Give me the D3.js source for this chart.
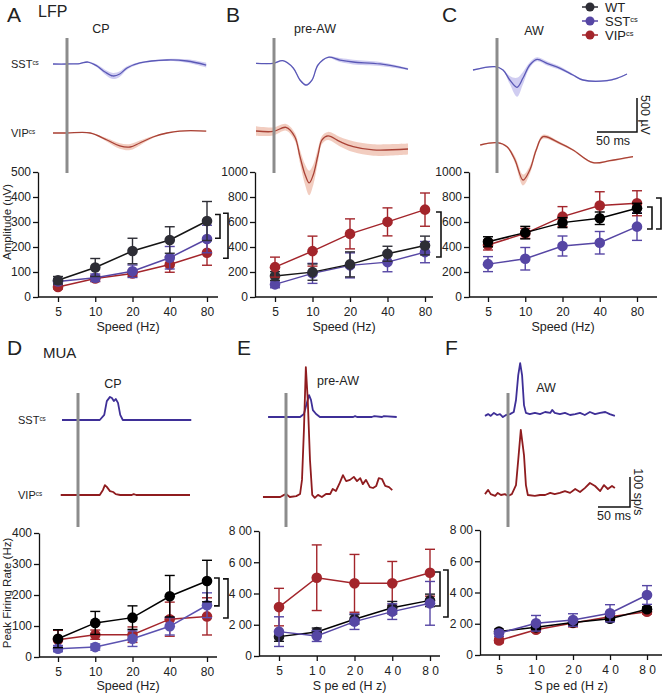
<!DOCTYPE html>
<html><head><meta charset="utf-8">
<script src="https://cdn.jsdelivr.net/npm/d3@7"></script>
<style>
body{margin:0;background:#fff}
svg{display:block}
text{font-family:"Liberation Sans",Arial,Helvetica,sans-serif;fill:#222}
</style>
</head><body>
<svg id="c" width="666" height="694"></svg>
<script>
// ---------------- DATA ----------------
const speeds = ["5","10","20","40","80"];
const speedLabels = ["5","10","20","40","80"];
const speedLabelsSpaced = ["5","1 0","2 0","4 0","8 0"];

// LFP amplitude (µV), mean and SEM
const ampCP_WT = [67,118,184,228,304],  ampCP_WTerr = [15,36,51,53,78];
const ampCP_SST = [62,77,103,157,232],  ampCP_SSTerr = [12,15,25,45,55];
const ampCP_VIP = [40,74,94,130,177],   ampCP_VIPerr = [8,12,12,31,50];

const ampPre_WT = [168,199,261,346,412], ampPre_WTerr = [35,65,100,60,75];
const ampPre_SST = [101,189,253,279,359], ampPre_SSTerr = [27,80,100,77,85];
const ampPre_VIP = [239,367,505,601,699], ampPre_VIPerr = [80,120,120,112,133];

const ampAW_WT = [442,515,595,630,710],  ampAW_WTerr = [40,50,40,50,40];
const ampAW_SST = [263,306,408,434,563], ampAW_SSTerr = [60,90,80,90,110];
const ampAW_VIP = [416,509,643,732,750], ampAW_VIPerr = [40,40,80,110,100];

// MUA peak firing rate (Hz), mean and SEM
const rateCP_WT = [59,110,127,196,245],  rateCP_WTerr = [29,37,38,67,67];
const rateCP_SST = [27,32,59,99,167],    rateCP_SSTerr = [10,10,25,28,40];
const rateCP_VIP = [56,72,72,122,131],   rateCP_VIPerr = [30,15,25,55,60];

const ratePre_WT = [124,154,235,309,356], ratePre_WTerr = [30,25,30,40,40];
const ratePre_SST = [156,128,220,284,337], ratePre_SSTerr = [95,35,50,50,140];
const ratePre_VIP = [313,501,465,465,533], ratePre_VIPerr = [120,210,185,140,150];

const rateAW_WT = [150,177,208,232,293], rateAW_WTerr = [15,15,15,15,15];
const rateAW_SST = [139,203,224,267,384], rateAW_SSTerr = [20,50,40,55,60];
const rateAW_VIP = [93,162,205,245,277], rateAW_VIPerr = [15,15,25,15,15];

// axis ticks
const ampCPTicks = [0,100,200,300,400,500];
const ampTicks = [0,200,400,600,800,1000];
const rateCPTicks = [0,100,200,300,400];
const rateTicks = [0,200,400,600,800];
const rateTickLabels = ["0","2 00","4 00","6 00","8 00"];

// significance brackets [upper value, lower value]
const bracketsCP_LFP = [[330,235],[335,155]];
const bracketsPre_LFP = [[680,320]];
const bracketsAW_LFP = [[720,544],[792,544]];
const bracketsCP_MUA = [[255,165],[252,126]];
const bracketsPre_MUA = [[538,320],[550,250]];

// LFP traces: [time ms, µV], with SEM (µV)
const lfpCP_SST = [[-17.5,0],[0,0],[16,7],[26,29],[37.5,-29],[47.5,-118],[57.5,-176],[66,-147],[75,-59],[91,15],[125,59],[150,44],[174,-15]];
const lfpCP_SSTsem = [8,8,8,10,20,35,45,40,25,15,15,25,35];
const lfpCP_VIP = [[-17.5,0],[0,0],[29,0],[50,-103],[66,-191],[79,-206],[91,-147],[107.5,-59],[125,0],[141,29],[174,29]];
const lfpCP_VIPsem = [5,5,5,25,40,45,35,15,8,8,8];

const lfpPre_SST = [[-22.5,0],[-1,0],[11,38],[24,-69],[32.5,-246],[40,-319],[47.5,-246],[55,-25],[67.5,88],[82.5,48],[99,19],[132.5,-10],[167.5,-84]];
const lfpPre_SSTsem = [8,8,8,10,15,15,15,10,10,30,35,30,15];
const lfpPre_VIP = [[-22.5,0],[-1,-7],[15,54],[26,-84],[32.5,-378],[39,-647],[44,-764],[49,-647],[55,-353],[60,-132],[67.5,-73],[82.5,-157],[99,-230],[124,-279],[167.5,-265]];
const lfpPre_VIPsem = [70,60,50,60,100,150,180,150,100,60,60,70,80,85,80];

const lfpAW_SST = [[-30,0],[-2.5,49],[7.5,0],[16,-147],[25,-254],[32.5,-118],[41,73],[50,157],[62.5,98],[79,25],[95,-73],[107.5,-147],[137.5,-157],[150,-122],[162.5,-59]];
const lfpAW_SSTsem = [8,10,10,60,140,90,40,30,30,25,15,12,12,10,8];
const lfpAW_VIP = [[-21,0],[0,34],[12.5,-25],[22.5,-220],[32.5,-515],[41,-367],[49,-73],[57.5,122],[79,24],[95,-73],[120,-260],[141,-231],[170,-172]];
const lfpAW_VIPsem = [10,10,15,50,80,60,40,30,20,15,12,12,10];

// MUA traces: [time ms, spikes/s]
const muaCP_SST = [[-25,0],[0,0],[34,0],[41,17],[45,63],[50,77],[53,73],[56,63],[59,70],[62.5,57],[66,17],[70,0],[177,0]];
const muaCP_VIP = [[-27,0],[0,0],[34,0],[39,17],[42,33],[45,27],[50,13],[55,10],[59,3],[66,0],[84,0],[87,3],[91,0],[175,0]];

const muaPre_SST = [[-28,0],[0,0],[22,0],[28,10],[33,50],[36,73],[39,57],[42,23],[47,10],[53,0],[105,0],[108,3],[111,0],[134,0],[138,3],[150,0],[153,3],[173,0]];
const muaPre_VIP = [[-36,0],[-9,0],[-3,7],[0,10],[6,0],[16,3],[22,10],[25,57],[28,223],[31,433],[34,323],[37.5,123],[41,7],[45,-3],[50,7],[56,0],[62.5,10],[69,10],[73,27],[78,20],[84,47],[89,73],[94,53],[100,57],[106,67],[111,53],[116,63],[120,43],[125,57],[131,33],[136,30],[141,37],[145,63],[150,60],[155,37],[161,33],[166,23]];

const muaAW_SST = [[-36,-3],[-31,3],[-27,-3],[-22,7],[-17,0],[-12.5,3],[-8,-7],[-3,0],[3,3],[9,10],[12.5,50],[16,133],[19,173],[22,133],[25,33],[28,7],[34,3],[42,7],[50,3],[58,10],[66,7],[69,17],[73,7],[81,3],[89,7],[97,0],[105,3],[112.5,7],[120,0],[128,10],[136,3],[144,7],[152,10],[159,3],[167,-3]];
const muaAW_VIP = [[-36,3],[-31,17],[-27,3],[-20,-3],[-16,7],[-11,0],[-5,3],[0,-3],[6,3],[12.5,33],[16,117],[20,217],[25,133],[28,33],[31,0],[42,-3],[50,0],[58,0],[66,7],[73,3],[81,7],[89,13],[97,7],[105,20],[112.5,10],[120,23],[128,40],[136,30],[144,13],[150,33],[156,20],[162.5,30],[167,23]];

// ---------------- STYLE ----------------
const C = {
  wt:"#2d2d35", wtLine:"#151515", sst:"#5646a4", vip:"#a3252b",
  sstTrace:"#5a58b6", sstBand:"#cbc8f0", vipTrace:"#a94236", vipBand:"#f1c8b9",
  sstMua:"#3e2f97", vipMua:"#8f1c1f", stim:"#8c8c8c", axis:"#111"
};
const svg = d3.select("#c");

function label(txt, x, y, size, anchor, opts={}) {
  const t = svg.append("text").attr("x",x).attr("y",y).attr("font-size",size)
    .attr("text-anchor",anchor||"start").text(txt);
  if (opts.rotate) t.attr("transform",`rotate(${opts.rotate},${x},${y})`);
  return t;
}
function csLabel(base, x, y, size) {
  const t = svg.append("text").attr("x",x).attr("y",y).attr("font-size",size);
  t.append("tspan").text(base);
  t.append("tspan").attr("font-size",size*0.58).attr("dy",-size*0.3).text("cs");
  return t;
}

// ---------------- LINE CHARTS ----------------
function lineChart(o) {
  const x = d3.scalePoint().domain(speeds).range([o.xa, o.xb]);
  const y = d3.scaleLinear().domain([0,o.max]).range([o.y0,o.y1]);
  const g = svg.append("g");
  const ya = g.append("g").attr("transform",`translate(${o.left},0)`)
    .call(d3.axisLeft(y).tickValues(o.ticks).tickSize(5).tickPadding(2).tickSizeOuter(0)
      .tickFormat((d,i)=> o.tickLabels ? o.tickLabels[i] : d));
  const xa = g.append("g").attr("transform",`translate(0,${o.y0})`)
    .call(d3.axisBottom(x).tickSize(5).tickSizeOuter(0).tickFormat((d,i)=>o.xLabels[i]));
  xa.select(".domain").remove();
  g.append("line").attr("x1",o.left).attr("x2",o.right).attr("y1",o.y0).attr("y2",o.y0)
    .attr("stroke",C.axis).attr("stroke-width",1.3);
  [ya,xa].forEach(a=>{
    a.selectAll("path,line").attr("stroke",C.axis).attr("stroke-width",1.3);
    a.selectAll("text").attr("font-size",12).attr("fill","#222")
      .attr("font-family",'"Liberation Sans",Arial,sans-serif');
  });
  xa.selectAll("text").attr("dy","0.95em");
  o.series.forEach(s=>{
    const pts = s.mean.map((m,i)=>({x:x(speeds[i]),m,e:s.err[i]}));
    g.append("path").datum(pts).attr("fill","none").attr("stroke",s.line||s.color).attr("stroke-width",1.5)
      .attr("d",d3.line().x(d=>d.x).y(d=>y(d.m)));
    pts.forEach(p=>{
      const top=y(p.m+p.e), bot=y(Math.max(0,p.m-p.e));
      g.append("line").attr("x1",p.x).attr("x2",p.x).attr("y1",top).attr("y2",bot)
        .attr("stroke",s.color).attr("stroke-width",1.4);
      [top,bot].forEach(yy=>g.append("line").attr("x1",p.x-5).attr("x2",p.x+5).attr("y1",yy).attr("y2",yy)
        .attr("stroke",s.color).attr("stroke-width",1.4));
    });
    g.selectAll(null).data(pts).join("circle").attr("cx",d=>d.x).attr("cy",d=>y(d.m)).attr("r",5.3)
      .attr("fill",s.color);
  });
  (o.brackets||[]).forEach((b,i)=>{
    const bx = o.bx[i], y1=y(b[0]), y2=y(b[1]);
    g.append("path").attr("d",`M${bx-5},${y1}H${bx}V${y2}H${bx-5}`)
      .attr("fill","none").attr("stroke","#111").attr("stroke-width",1.6);
  });
  label(o.xTitle, (o.left+o.right)/2, o.xTitleY, 12.5, "middle");
  if (o.yTitle) label(o.yTitle, o.yTitleX, o.yTitleCY, 11.5, "middle", {rotate:-90});
}

function S(mean,err,color,line){return {mean,err,color,line};}

lineChart({left:38,right:218,xa:58,xb:207,y0:297,y1:172,max:500,ticks:ampCPTicks,xLabels:speedLabels,
  series:[S(ampCP_VIP,ampCP_VIPerr,C.vip),S(ampCP_SST,ampCP_SSTerr,C.sst),S(ampCP_WT,ampCP_WTerr,C.wt,C.wtLine)],
  brackets:bracketsCP_LFP,bx:[220,228],xTitle:"Speed  (Hz)",xTitleY:331,yTitle:"Amplitude (uV)",yTitleX:11,yTitleCY:222});
lineChart({left:255,right:433,xa:275,xb:425,y0:297,y1:172,max:1000,ticks:ampTicks,xLabels:speedLabels,
  series:[S(ampPre_SST,ampPre_SSTerr,C.sst),S(ampPre_WT,ampPre_WTerr,C.wt,C.wtLine),S(ampPre_VIP,ampPre_VIPerr,C.vip)],
  brackets:bracketsPre_LFP,bx:[441],xTitle:"Speed  (Hz)",xTitleY:331});
lineChart({left:469,right:657,xa:488,xb:637,y0:297,y1:172,max:1000,ticks:ampTicks,xLabels:speedLabels,
  series:[S(ampAW_SST,ampAW_SSTerr,C.sst),S(ampAW_VIP,ampAW_VIPerr,C.vip),S(ampAW_WT,ampAW_WTerr,"#000","#000")],
  brackets:bracketsAW_LFP,bx:[652,661],xTitle:"Speed  (Hz)",xTitleY:331});
lineChart({left:39,right:217,xa:58,xb:207,y0:657,y1:533,max:400,ticks:rateCPTicks,xLabels:speedLabels,
  series:[S(rateCP_VIP,rateCP_VIPerr,C.vip),S(rateCP_SST,rateCP_SSTerr,"#5b52b0"),S(rateCP_WT,rateCP_WTerr,"#000","#000")],
  brackets:bracketsCP_MUA,bx:[219,228],xTitle:"Speed  (Hz)",xTitleY:690,yTitle:"Peak Firing Rate (Hz)",yTitleX:11,yTitleCY:593});
lineChart({left:259,right:440,xa:279,xb:430,y0:656,y1:531,max:800,ticks:rateTicks,tickLabels:rateTickLabels,xLabels:speedLabelsSpaced,
  series:[S(ratePre_VIP,ratePre_VIPerr,C.vip),S(ratePre_WT,ratePre_WTerr,"#1a1a22","#000"),S(ratePre_SST,ratePre_SSTerr,C.sst)],
  brackets:bracketsPre_MUA,bx:[440,448],xTitle:"S pe ed   (H z)",xTitleY:690});
lineChart({left:480,right:662,xa:499,xb:647,y0:655,y1:530,max:800,ticks:rateTicks,tickLabels:rateTickLabels,xLabels:speedLabelsSpaced,
  series:[S(rateAW_VIP,rateAW_VIPerr,C.vip),S(rateAW_WT,rateAW_WTerr,"#000","#000"),S(rateAW_SST,rateAW_SSTerr,C.sst)],
  xTitle:"S pe ed   (H z)",xTitleY:690});

// ---------------- TRACES ----------------
function traces(o) {
  const x = d3.scaleLinear().domain([0,50]).range([o.xl, o.xl+o.px50]);
  o.tr.forEach(t=>{
    const y = d3.scaleLinear().domain([0,o.unit]).range([t.base, t.base-o.pxUnit]);
    if (t.sem) {
      const area = d3.area().curve(d3.curveCatmullRom.alpha(0.5))
        .x(d=>x(d[0])).y0((d,i)=>y(d[1]-t.sem[i])).y1((d,i)=>y(d[1]+t.sem[i]));
      svg.append("path").datum(t.data).attr("d",area).attr("fill",t.band).attr("opacity",0.9);
    }
    const line = d3.line().curve(o.smooth ? d3.curveCatmullRom.alpha(0.5) : d3.curveLinear)
      .x(d=>x(d[0])).y(d=>y(d[1]));
    svg.append("path").datum(t.data).attr("d",line).attr("fill","none")
      .attr("stroke",t.color).attr("stroke-width",o.smooth?1.3:1.8).attr("stroke-linejoin","round");
  });
  svg.append("line").attr("x1",o.xl).attr("x2",o.xl).attr("y1",o.gy1).attr("y2",o.gy2)
    .attr("stroke",C.stim).attr("stroke-width",3);
  if (o.scalebar) {
    const sb = o.scalebar;
    const xr = x(50) - x(0);
    svg.append("path").attr("d",`M${sb.x-xr},${sb.y}H${sb.x}V${sb.y-o.pxUnit}`)
      .attr("fill","none").attr("stroke","#111").attr("stroke-width",1.5);
    label("50 ms", sb.x-xr-1, sb.y+13, 12.5, "start");
    label(sb.unitLabel, sb.x+4, sb.y-o.pxUnit/2, 12.5, "middle", {rotate:90});
  }
}

traces({xl:67,px50:40,unit:500,pxUnit:34,smooth:true,gy1:38,gy2:173,tr:[
  {data:lfpCP_SST,sem:lfpCP_SSTsem,base:64,color:C.sstTrace,band:C.sstBand},
  {data:lfpCP_VIP,sem:lfpCP_VIPsem,base:133,color:C.vipTrace,band:C.vipBand}]});
traces({xl:274,px50:40,unit:500,pxUnit:34,smooth:true,gy1:38,gy2:173,tr:[
  {data:lfpPre_SST,sem:lfpPre_SSTsem,base:63.3,color:C.sstTrace,band:C.sstBand},
  {data:lfpPre_VIP,sem:lfpPre_VIPsem,base:131,color:C.vipTrace,band:C.vipBand}]});
traces({xl:497,px50:40,unit:500,pxUnit:34,smooth:true,gy1:38,gy2:173,tr:[
  {data:lfpAW_SST,sem:lfpAW_SSTsem,base:70,color:C.sstTrace,band:C.sstBand},
  {data:lfpAW_VIP,sem:lfpAW_VIPsem,base:145,color:C.vipTrace,band:C.vipBand}],
  scalebar:{x:637,y:132,unitLabel:"500 µV"}});

traces({xl:78,px50:32,unit:100,pxUnit:30,smooth:false,gy1:393,gy2:527,tr:[
  {data:muaCP_SST,base:420,color:C.sstMua},
  {data:muaCP_VIP,base:495,color:C.vipMua}]});
traces({xl:286,px50:32,unit:100,pxUnit:30,smooth:false,gy1:393,gy2:527,tr:[
  {data:muaPre_SST,base:417,color:C.sstMua},
  {data:muaPre_VIP,base:497,color:C.vipMua}]});
traces({xl:508,px50:32,unit:100,pxUnit:30,smooth:false,gy1:393,gy2:527,tr:[
  {data:muaAW_SST,base:415,color:C.sstMua},
  {data:muaAW_VIP,base:495,color:C.vipMua}],
  scalebar:{x:630,y:507,unitLabel:"100 sp/s"}});

// ---------------- LABELS ----------------
label("A",7,22,21); label("LFP",38,17,16);
label("B",226,22,21); label("C",442,22,21);
label("D",7,355,21); label("MUA",43,358,15);
label("E",237,355,21); label("F",445,355,21);

label("CP",101,33,12.5,"middle"); label("pre-AW",315,33,12.5,"middle"); label("AW",534,35,12.5,"middle");
label("CP",113,388,12.5,"middle"); label("pre-AW",338,385,12.5,"middle"); label("AW",546,392,12.5,"middle");

csLabel("SST",11,68,11); csLabel("VIP",11,137,11);
csLabel("SST",18,424,11); csLabel("VIP",18,499,11);

const legend = [["WT",C.wt],["SST",C.sst],["VIP",C.vip]];
legend.forEach((l,i)=>{
  const yy = 7 + i*14;
  svg.append("line").attr("x1",582).attr("x2",598).attr("y1",yy).attr("y2",yy).attr("stroke",l[1]).attr("stroke-width",1.5);
  svg.append("circle").attr("cx",590).attr("cy",yy).attr("r",4.5).attr("fill",l[1]);
  if (i===0) label(l[0],605,yy+4.5,13); else csLabel(l[0],605,yy+4.5,13);
});
</script>
</body></html>
